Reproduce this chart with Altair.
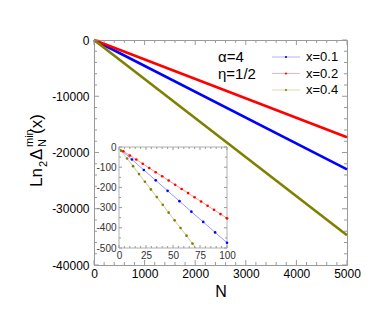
import altair as alt
import pandas as pd

# ---------------- data ----------------
series = ["x=0.1", "x=0.2", "x=0.4"]
colors = ["#0000ff", "#ff0000", "#808000"]

# main panel (straight lines)
main_N = [0, 5000]
main_blue = [0, -23000]
main_red = [0, -17300]
main_olive = [0, -34700]

# inset points
ins_red_N = [1, 4, 10, 16, 22, 28, 34, 40, 46, 52, 58, 64, 70, 76, 82, 88, 94, 100]
ins_red_v = [-10, -21, -42, -62, -83, -104, -125, -145, -166, -187, -208, -228, -249, -270, -291, -311, -332, -353]
ins_blue_N = [1, 12, 23, 34, 45, 56, 67, 78, 89, 100]
ins_blue_v = [-11, -62, -114, -165, -217, -268, -320, -371, -423, -474]
ins_olive_N = [1, 2, 7.5, 13, 18.5, 24, 29.5, 35, 40.5, 46, 51.5, 57, 62.5, 68]
ins_olive_v = [-10, -19, -57, -95, -134, -172, -210, -248, -286, -325, -363, -401, -439, -478]
ins_olive_end_N = [68, 71.2]
ins_olive_end_v = [-478, -500]

# tick values
main_x_major = [0, 1000, 2000, 3000, 4000, 5000]
main_x_minor = [v for v in range(0, 5001, 200) if v % 1000]
main_y_major = [0, -10000, -20000, -30000, -40000]
main_y_minor = [-v for v in range(0, 40001, 2000) if v % 10000]
ins_x_major = [0, 25, 50, 75, 100]
ins_x_minor = [v for v in range(0, 101, 5) if v % 25]
ins_y_major = [0, -100, -200, -300, -400, -500]
ins_y_minor = [-50, -150, -250, -350, -450]

W, H = 253, 225
IX0, IX1, IY0, IY1 = 25, 133, 107, 208  # inset rectangle in plot pixels
FONT = "Liberation Sans"
FRAME = "#9a9a9a"

color_scale = alt.Scale(domain=series, range=colors)

xs_main = alt.Scale(domain=[0, 5000], nice=False, zero=False)
ys_main = alt.Scale(domain=[-40000, 0], nice=False, zero=False)
xs_ins = alt.Scale(domain=[0, 100], range=[IX0, IX1], nice=False, zero=False)
ys_ins = alt.Scale(domain=[-500, 0], range=[IY1, IY0], nice=False, zero=False)

main_x_axis = alt.Axis(orient="bottom", values=main_x_major, ticks=False, domain=False,
                       grid=False, labelFontSize=12, labelPadding=3, labelFont=FONT,
                       labelColor="black", title="N", titleFont=FONT, titleFontSize=16,
                       titleFontWeight="normal", titlePadding=4, titleColor="black",
                       labelExpr="'' + datum.value", labelFlush=False, labelOverlap=False)
main_y_axis = alt.Axis(orient="left", values=main_y_major, ticks=False, domain=False,
                       grid=False, labelFontSize=12, labelPadding=5, labelFont=FONT,
                       labelColor="black", title="", labelExpr="'' + datum.value",
                       labelFlush=False, labelOverlap=False)
ins_x_axis = alt.Axis(orient="bottom", offset=IY1 - H, values=ins_x_major, ticks=False,
                      domain=False, grid=False, labelFontSize=10, labelPadding=2,
                      labelFont=FONT, labelColor="#333333", title="",
                      labelExpr="'' + datum.value", labelFlush=False, labelOverlap=False)
ins_y_axis = alt.Axis(orient="left", offset=-IX0, values=ins_y_major, ticks=False,
                      domain=False, grid=False, labelFontSize=10, labelPadding=3,
                      labelFont=FONT, labelColor="#333333", title="",
                      labelExpr="'' + datum.value", labelFlush=False, labelOverlap=False)

# ---------------- main panel ----------------
main_df = pd.DataFrame({
    "N": main_N * 3,
    "v": main_blue + main_red + main_olive,
    "s": [series[0]] * 2 + [series[1]] * 2 + [series[2]] * 2,
})

main_lines = alt.Chart(main_df).mark_line(strokeWidth=2.6).encode(
    x=alt.X("N:Q", scale=xs_main, axis=main_x_axis),
    y=alt.Y("v:Q", scale=ys_main, axis=main_y_axis),
    color=alt.Color("s:N", scale=color_scale, legend=None),
    detail="s:N",
)


def xticks(values, y_px, length, scale, axis):
    df = pd.DataFrame({"N": values})
    return alt.Chart(df).mark_rule(color=FRAME, strokeWidth=1).encode(
        x=alt.X("N:Q", scale=scale, axis=axis),
        y=alt.value(y_px), y2=alt.value(y_px + length))


def yticks(values, x_px, length, scale, axis):
    df = pd.DataFrame({"v": values})
    return alt.Chart(df).mark_rule(color=FRAME, strokeWidth=1).encode(
        y=alt.Y("v:Q", scale=scale, axis=axis),
        x=alt.value(x_px), x2=alt.value(x_px + length))


main_ticks = [
    xticks(main_x_major, H, -5, xs_main, main_x_axis), xticks(main_x_minor, H, -3, xs_main, main_x_axis),
    xticks(main_x_major, 0, 5, xs_main, main_x_axis), xticks(main_x_minor, 0, 3, xs_main, main_x_axis),
    yticks(main_y_major, 0, 5, ys_main, main_y_axis), yticks(main_y_minor, 0, 3, ys_main, main_y_axis),
    yticks(main_y_major, W, -5, ys_main, main_y_axis), yticks(main_y_minor, W, -3, ys_main, main_y_axis),
]

one = pd.DataFrame({"a": [0]})


def txt(text, x, y, size, angle=0, align="left", baseline="middle"):
    kw = dict(text=text, fontSize=size, font=FONT, color="black", align=align, baseline=baseline)
    if angle:
        kw["angle"] = angle
    return alt.Chart(one).mark_text(**kw).encode(x=alt.value(x), y=alt.value(y))


annot = [
    txt("α=4", 124, 17, 15),
    txt("η=1/2", 124, 34, 15),
]

legend_layers = []
for i, (s, c) in enumerate(zip(series, colors)):
    yy = 17 + 16.5 * i
    legend_layers.append(alt.Chart(one).mark_rule(color=c, strokeWidth=1, opacity=0.3).encode(
        x=alt.value(178), x2=alt.value(206), y=alt.value(yy)))
    legend_layers.append(alt.Chart(one).mark_point(color=c, filled=True, size=5, opacity=1).encode(
        x=alt.value(192), y=alt.value(yy)))
    legend_layers.append(txt(s, 212, yy, 13))

# y-axis title assembled from pieces (rotated)
ytitle = [
    txt("Ln", -52, 147, 17, angle=270, baseline="alphabetic"),
    txt("2", -47, 127, 11, angle=270, baseline="alphabetic"),
    txt("Δ", -52, 120, 17, angle=270, baseline="alphabetic"),
    txt("N", -48, 107, 11, angle=270, baseline="alphabetic"),
    txt("min", -61, 107, 11, angle=270, baseline="alphabetic"),
    txt("(x)", -52, 94, 17, angle=270, baseline="alphabetic"),
]

main_layer = alt.layer(main_lines, *main_ticks, *annot, *legend_layers, *ytitle)

# ---------------- inset ----------------
frame_df = pd.DataFrame({"N": [0], "N2": [100], "v": [0], "v2": [-500]})
frame = alt.Chart(frame_df).mark_rect(fill="white", stroke="#b0b0b0", strokeWidth=1).encode(
    x=alt.X("N:Q", scale=xs_ins, axis=ins_x_axis), x2="N2:Q",
    y=alt.Y("v:Q", scale=ys_ins, axis=ins_y_axis), y2="v2:Q")

ins_df = pd.DataFrame({
    "N": ins_blue_N + ins_red_N + ins_olive_N,
    "v": ins_blue_v + ins_red_v + ins_olive_v,
    "s": [series[0]] * len(ins_blue_N) + [series[1]] * len(ins_red_N) + [series[2]] * len(ins_olive_N),
})
end_df = pd.DataFrame({"N": ins_olive_end_N, "v": ins_olive_end_v, "s": [series[2]] * 2})

ins_lines = alt.Chart(ins_df).mark_line(strokeWidth=1, opacity=0.4).encode(
    x=alt.X("N:Q", scale=xs_ins, axis=ins_x_axis),
    y=alt.Y("v:Q", scale=ys_ins, axis=ins_y_axis),
    color=alt.Color("s:N", scale=color_scale, legend=None),
    detail="s:N",
)
ins_end = alt.Chart(end_df).mark_line(strokeWidth=1, opacity=0.4).encode(
    x=alt.X("N:Q", scale=xs_ins, axis=ins_x_axis),
    y=alt.Y("v:Q", scale=ys_ins, axis=ins_y_axis),
    color=alt.Color("s:N", scale=color_scale, legend=None),
)
ins_pts = alt.Chart(ins_df[ins_df.N > 1.5]).mark_point(filled=True, size=7, opacity=1).encode(
    x=alt.X("N:Q", scale=xs_ins, axis=ins_x_axis),
    y=alt.Y("v:Q", scale=ys_ins, axis=ins_y_axis),
    color=alt.Color("s:N", scale=color_scale, legend=None),
)

ins_ticks = [
    xticks(ins_x_major, IY1, -3, xs_ins, ins_x_axis), xticks(ins_x_minor, IY1, -2, xs_ins, ins_x_axis),
    xticks(ins_x_major, IY0, 3, xs_ins, ins_x_axis), xticks(ins_x_minor, IY0, 2, xs_ins, ins_x_axis),
    yticks(ins_y_major, IX0, 3, ys_ins, ins_y_axis), yticks(ins_y_minor, IX0, 2, ys_ins, ins_y_axis),
    yticks(ins_y_major, IX1, -3, ys_ins, ins_y_axis), yticks(ins_y_minor, IX1, -2, ys_ins, ins_y_axis),
]

inset_layer = alt.layer(frame, *ins_ticks, ins_lines, ins_end, ins_pts)

chart = alt.layer(main_layer, inset_layer).resolve_scale(
    x="independent", y="independent"
).properties(
    width=W, height=H,
    padding={"left": 86, "top": 32, "right": 32, "bottom": 48},
    autosize=alt.AutoSizeParams(type="none"),
).configure_view(stroke=FRAME, strokeWidth=1)

chart.save("out.html", embed_options={"renderer": "svg", "actions": False})
